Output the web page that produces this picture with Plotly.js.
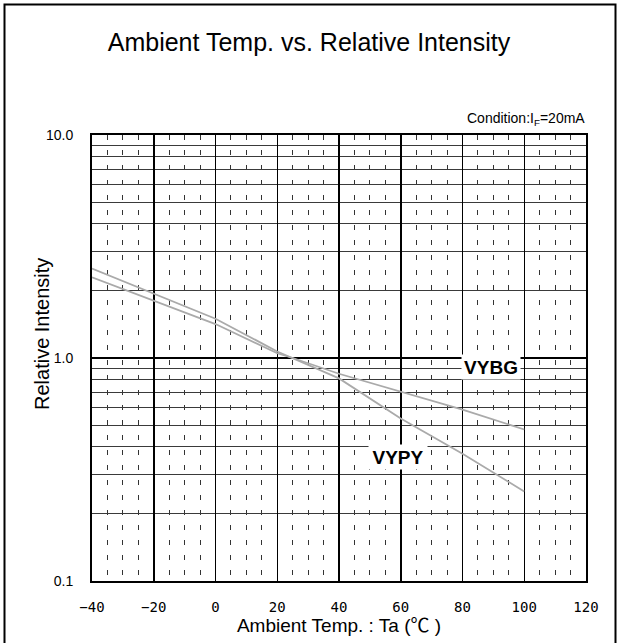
<!DOCTYPE html>
<html>
<head>
<meta charset="utf-8">
<script src="https://cdn.plot.ly/plotly-3.0.1.min.js"></script>
<style>
  html, body { margin: 0; padding: 0; background: #fff; }
  #chart { width: 618px; height: 643px; }
</style>
</head>
<body>
<div id="chart"></div>
<script>
// Data
const tempC = [-40, -20, 0, 20, 25, 40, 60, 80, 100];
const vybg  = [2.30, 1.80, 1.42, 1.05, 1.0, 0.85, 0.707, 0.587, 0.478];
const vypy  = [2.52, 1.95, 1.50, 1.07, 1.0, 0.81, 0.535, 0.372, 0.252];

const yTickVals = [0.1, 1, 10];
const yTickText = ['0.1', '1.0', '10.0'];
const yMinorVals = [0.2, 0.3, 0.4, 0.5, 0.6, 0.7, 0.8, 0.9, 2, 3, 4, 5, 6, 7, 8, 9];

const seriesNames = ['VYBG', 'VYPY'];
const labelPos = { VYBG: [89.2, 0.912], VYPY: [59.2, 0.360] };

const titleText = 'Ambient Temp. vs. Relative Intensity';
const xTitle = 'Ambient Temp. : Ta (℃ )';
const yTitle = 'Relative Intensity';
const conditionText = 'Condition:I<sub>F</sub>=20mA';

const SANS = 'Liberation Sans, Noto Sans CJK JP, Arial, sans-serif';

const lineStyle = { color: '#aaaaaa', width: 1.8 };

const traces = [
  { x: tempC, y: vybg, name: seriesNames[0], mode: 'lines', line: lineStyle, hoverinfo: 'skip' },
  { x: tempC, y: vypy, name: seriesNames[1], mode: 'lines', line: lineStyle, hoverinfo: 'skip' }
];

const annotations = seriesNames.map(n => ({
  x: labelPos[n][0], y: Math.log10(labelPos[n][1]), xref: 'x', yref: 'y',
  text: '<b>' + n + '</b>', showarrow: false,
  font: { family: SANS, size: 19, color: '#000' },
  bgcolor: '#ffffff', width: 58, height: 24, borderpad: 0,
  xanchor: 'center', yanchor: 'middle'
}));

annotations.push({
  x: 1, y: 1, xref: 'paper', yref: 'paper', xanchor: 'right', yanchor: 'bottom',
  yshift: 5, xshift: 1, showarrow: false, text: conditionText,
  font: { family: SANS, size: 14, color: '#000' }
});

// y-axis title, placed like the reference (slightly above the plot centre)
annotations.push({
  x: (42 - 92) / 494, y: (581 - 334) / 446, xref: 'paper', yref: 'paper',
  xanchor: 'center', yanchor: 'middle', textangle: -90, showarrow: false,
  text: yTitle, font: { family: SANS, size: 20, color: '#000' }
});

const layout = {
  width: 618, height: 643,
  margin: { l: 92, r: 32, t: 135, b: 62 },
  paper_bgcolor: '#fff', plot_bgcolor: '#fff',
  showlegend: false,
  title: {
    text: titleText, x: 0.5, xref: 'container', y: 1 - 42 / 643, yref: 'container',
    xanchor: 'center', yanchor: 'middle',
    font: { family: SANS, size: 25, color: '#000' }
  },
  xaxis: {
    range: [-40, 120], tick0: -40, dtick: 20,
    showgrid: true, gridcolor: '#000', gridwidth: 1.5,
    showline: true, mirror: true, linecolor: '#000', linewidth: 2,
    zeroline: false, ticks: '', ticklabelstandoff: 12,
    tickfont: { family: 'DejaVu Sans Mono, monospace', size: 14, color: '#000' },
    minor: { dtick: 5, tick0: -40, showgrid: true, gridcolor: '#333', gridwidth: 1, griddash: '5px,10px', ticks: '' },
    title: { text: xTitle, standoff: 2, font: { family: SANS, size: 19, color: '#000' } }
  },
  yaxis: {
    type: 'log', range: [-1, 1],
    tickmode: 'array', tickvals: yTickVals, ticktext: yTickText,
    showgrid: true, gridcolor: '#000', gridwidth: 2,
    showline: true, mirror: true, linecolor: '#000', linewidth: 2,
    zeroline: false, ticks: '', ticklabelstandoff: 14,
    tickfont: { family: SANS, size: 14, color: '#000' },
    minor: { tickmode: 'array', tickvals: yMinorVals, showgrid: true, gridcolor: '#3a3a3a', gridwidth: 1, ticks: '' }
  },
  annotations: annotations,
  shapes: [{
    type: 'rect', xref: 'paper', yref: 'paper', layer: 'above',
    x0: (4.5 - 92) / 494, x1: (615.5 - 92) / 494,
    y0: -0.3, y1: (581 - 4.5) / 446,
    line: { color: '#000', width: 2 }, fillcolor: 'rgba(0,0,0,0)'
  }]
};

Plotly.newPlot('chart', traces, layout, { staticPlot: true, displayModeBar: false });
</script>
</body>
</html>
